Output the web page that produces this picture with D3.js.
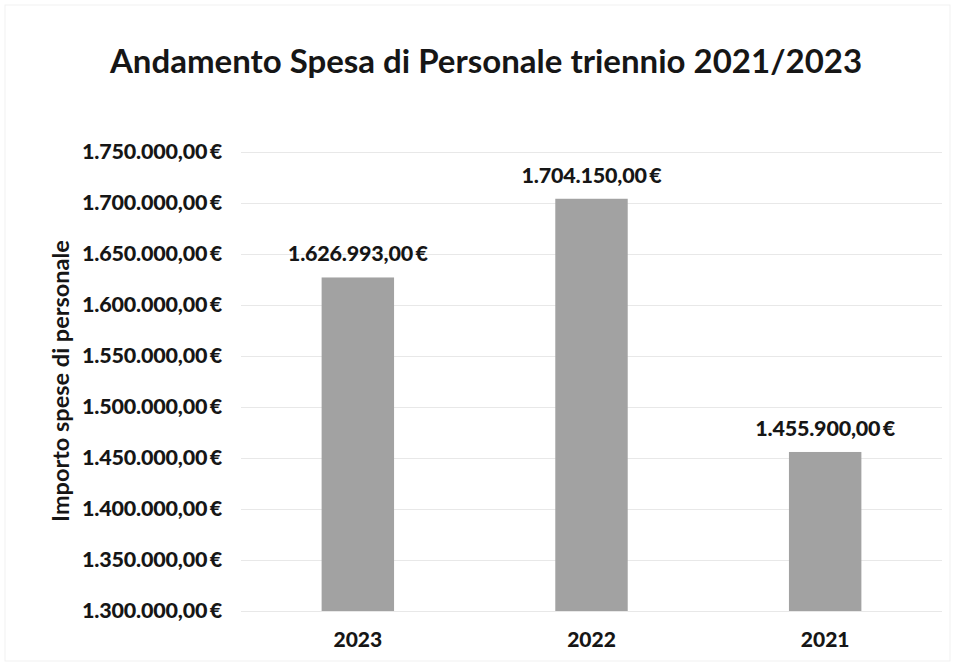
<!DOCTYPE html>
<html>
<head>
<meta charset="utf-8">
<script src="https://cdn.jsdelivr.net/npm/d3@7"></script>
<style>
  body { margin: 0; background: #fff; }
  svg { font-family: Lato, "Open Sans", sans-serif; font-weight: 700; }
</style>
</head>
<body>
<svg id="chart" width="955" height="666"></svg>
<script>
'use strict'

// ------------------------------------------------------------ DATA -------
let years = ['2023', '2022', '2021']
let spese = [1626993, 1704150, 1455900]
let tickValues = [1300000, 1350000, 1400000, 1450000, 1500000,
                  1550000, 1600000, 1650000, 1700000, 1750000]

let svg = d3.select('#chart')

// ------------------------------------------------------ POSITIONING ------
let leftX = 241, rightX = 942
let topY = 152, bottomY = 611

// frame of the scanned chart
svg.append('rect')
  .attr('x', 5).attr('y', 5).attr('width', 945).attr('height', 656)
  .attr('fill', 'none').attr('stroke', '#f1f1f1')

// ----------------------------------------------------------- SCALES ------
let x = d3.scaleBand().domain(years).range([leftX, rightX]).paddingInner(0.69).paddingOuter(0.345)
let y = d3.scaleLinear().domain([1300000, 1750000]).range([bottomY, topY])

let fmt = d3.formatLocale({decimal: ',', thousands: '.', grouping: [3], currency: ['', '\u2009€']})
let euro = v => fmt.format('$,.2f')(v)

// --------------------------------------------------------- GRIDS ---------
let yAxis = d3.axisLeft(y)
  .tickValues(tickValues)
  .tickSize(-(rightX - leftX))
  .tickPadding(19)
  .tickFormat(euro)

let gy = svg.append('g')
  .attr('transform', 'translate(' + leftX + ',0)')
  .call(yAxis)
gy.select('.domain').remove()
gy.selectAll('.tick line').attr('stroke', '#e8e8e8').attr('stroke-width', 1)
gy.selectAll('.tick text')
  .attr('fill', '#161616')
  .style('font-size', '21.5px')
  .style('font-family', 'Lato, sans-serif')
  .style('font-weight', 900)
  .style('letter-spacing', '-0.2px')

// --------------------------------------------------------- BARS ----------
svg.append('g').selectAll('rect').data(spese).enter()
  .append('rect')
    .attr('x', (d, i) => x(years[i]))
    .attr('width', x.bandwidth())
    .attr('y', d => y(d))
    .attr('height', d => y(1300000) - y(d))
    .attr('fill', '#a2a2a2')

svg.append('g').selectAll('text').data(spese).enter()
  .append('text')
    .attr('x', (d, i) => x(years[i]) + x.bandwidth() / 2)
    .attr('y', d => y(d) - 16)
    .attr('text-anchor', 'middle')
    .attr('fill', '#161616')
    .style('font-size', '21.5px')
    .style('font-weight', 900)
    .style('letter-spacing', '-0.2px')
    .text(d => euro(d))

// ---------------------------------------------------- CATEGORY AXIS ------
let xAxis = d3.axisBottom(x).tickSize(0).tickPadding(21)
let gx = svg.append('g')
  .attr('transform', 'translate(0,' + bottomY + ')')
  .call(xAxis)
gx.select('.domain').remove()
gx.selectAll('.tick text')
  .attr('fill', '#161616')
  .style('font-size', '21px')
  .style('font-family', 'Lato, sans-serif')
  .style('font-weight', 900)

// ----------------------------------------------------------- TITLES ------
svg.append('text')
  .attr('x', 486).attr('y', 73)
  .attr('text-anchor', 'middle')
  .attr('fill', '#161616')
  .style('font-size', '33px')
  .style('font-weight', 700)
  .text('Andamento Spesa di Personale triennio 2021/2023')

svg.append('text')
  .attr('transform', 'translate(69,381) rotate(-90)')
  .attr('text-anchor', 'middle')
  .attr('fill', '#161616')
  .style('font-size', '23.5px')
  .style('font-weight', 700)
  .text('Importo spese di personale')
</script>
</body>
</html>
